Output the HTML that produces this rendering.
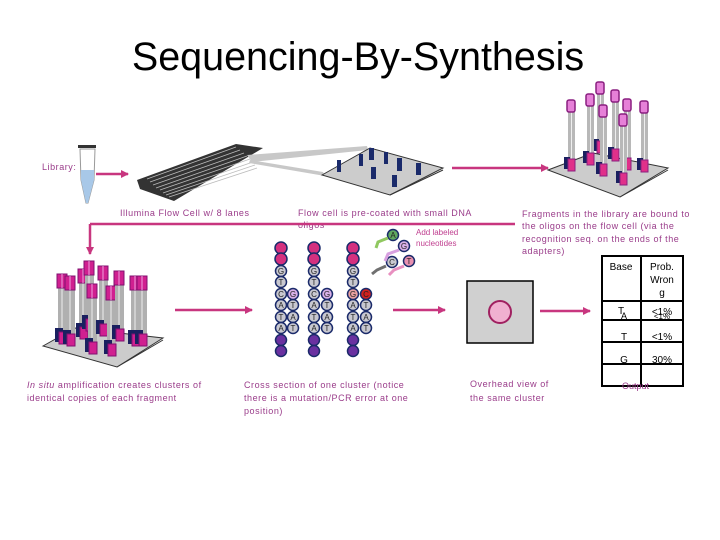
<!DOCTYPE html>
<html><head><meta charset="utf-8"><style>
html,body{margin:0;padding:0;background:#fff;}
svg{display:block;font-family:"Liberation Sans",sans-serif;}
.t{font-size:9px;fill:#9a3c8a;letter-spacing:0.55px;}
.k{font-size:10px;fill:#000;}
</style></head><body>
<svg width="720" height="540" viewBox="0 0 720 540" xmlns="http://www.w3.org/2000/svg">
<defs>
<marker id="ar" markerWidth="8" markerHeight="8" refX="7" refY="4" orient="auto" markerUnits="userSpaceOnUse"><path d="M0,0 L8,4 L0,8 z" fill="#c8367f"/></marker>
<g id="post"><rect x="-3" y="0" width="7" height="66" fill="#b8b8b8"/><line x1="0.5" y1="0" x2="0.5" y2="66" stroke="#eee" stroke-width="1"/><rect x="-4" y="-3" width="8" height="12" rx="2" fill="#e680d8" stroke="#8a1f80" stroke-width="1.5"/><rect x="-7" y="54" width="6" height="12" fill="#1a2060"/><rect x="-3" y="56" width="7" height="12" fill="#e0308a" stroke="#8a1f80"/></g>
<g id="post2"><rect x="-4" y="0" width="9" height="66" fill="#b0b0b0"/><line x1="0" y1="0" x2="0" y2="66" stroke="#eee"/><rect x="-5" y="-2" width="10" height="14" fill="#d02090" stroke="#801070"/><line x1="0" y1="-2" x2="0" y2="12" stroke="#f0a0e0"/><rect x="-7" y="52" width="8" height="14" fill="#1a2060"/><rect x="-3" y="56" width="8" height="12" fill="#d02090" stroke="#801070"/></g>
</defs>

<text x="358" y="70" text-anchor="middle" font-size="39.5" fill="#000">Sequencing-By-Synthesis</text>

<!-- library tube -->
<text x="42" y="170" class="t">Library:</text>
<rect x="78" y="145" width="18" height="3" fill="#333"/>
<path d="M80,149 L95,149 L94,180 L88,203 L86,203 L81,180 z" fill="#fff" stroke="#999"/>
<path d="M81,170 L94,170 L94,180 L88,203 L86,203 L81,180 z" fill="#a8c8e8"/>
<line x1="96" y1="174" x2="128" y2="174" stroke="#c8367f" stroke-width="2.5" marker-end="url(#ar)"/>

<!-- flow cell chip -->
<polygon points="137,180 236,144 263,148 174,201 140,189" fill="#333"/>
<g stroke="#bbb" stroke-width="0.8">
<line x1="150" y1="182" x2="240" y2="150"/><line x1="153" y1="185" x2="244" y2="153"/><line x1="156" y1="188" x2="247" y2="156"/><line x1="160" y1="190" x2="250" y2="159"/><line x1="163" y1="193" x2="253" y2="162"/><line x1="166" y1="195" x2="255" y2="165"/><line x1="169" y1="197" x2="257" y2="168"/><line x1="147" y1="179" x2="236" y2="147"/>
</g>
<polygon points="247,155 367,146 368,150 252,162" fill="#c8c8c8"/>
<polygon points="250,160 323,172 325,176 249,163" fill="#c8c8c8"/>
<polygon points="322,175 370,148 443,168 390,195" fill="#ccc" stroke="#333"/>
<line x1="390" y1="195" x2="443" y2="170" stroke="#333"/>
<g fill="#1a2a6a">
<rect x="337" y="160" width="4" height="12"/><rect x="359" y="154" width="4" height="12"/><rect x="369" y="148" width="5" height="12"/><rect x="384" y="152" width="4" height="12"/><rect x="371" y="167" width="5" height="12"/><rect x="397" y="158" width="5" height="13"/><rect x="416" y="163" width="5" height="12"/><rect x="392" y="175" width="5" height="12"/>
</g>
<line x1="452" y1="168" x2="548" y2="168" stroke="#c8367f" stroke-width="2.5" marker-end="url(#ar)"/>

<!-- right-top plate with posts -->
<polygon points="548,170 593,153 668,168 620,197" fill="#ccc" stroke="#333"/>
<line x1="620" y1="197" x2="668" y2="170" stroke="#333"/>
<use href="#post" x="600" y="85"/><use href="#post" x="590" y="97"/><use href="#post" x="615" y="93"/><use href="#post" x="571" y="103"/><use href="#post" x="627" y="102"/><use href="#post" x="644" y="104"/><use href="#post" x="603" y="108"/><use href="#post" x="623" y="117"/>

<text x="120" y="216" class="t">Illumina Flow Cell w/ 8 lanes</text>
<text x="298" y="216" class="t">Flow cell is pre-coated with small DNA</text>
<text x="298" y="228" class="t">oligos</text>
<text x="522" y="217" class="t">Fragments in the library are bound to</text>
<text x="522" y="229" class="t">the oligos on the flow cell (via the</text>
<text x="522" y="242" class="t">recognition seq. on the ends of the</text>
<text x="522" y="254" class="t">adapters)</text>

<line x1="90" y1="224" x2="515" y2="224" stroke="#c8367f" stroke-width="2.5"/>
<line x1="90" y1="224" x2="90" y2="254" stroke="#c8367f" stroke-width="2.5" marker-end="url(#ar)"/>

<!-- left cluster -->
<polygon points="43,346 75,328 163,338 117,367" fill="#ccc" stroke="#333"/>
<line x1="117" y1="367" x2="163" y2="340" stroke="#333"/>
<use href="#post2" x="62" y="276"/><use href="#post2" x="70" y="278"/><use href="#post2" x="83" y="271"/><use href="#post2" x="89" y="263"/><use href="#post2" x="92" y="286"/><use href="#post2" x="103" y="268"/><use href="#post2" x="111" y="288"/><use href="#post2" x="119" y="273"/><use href="#post2" x="135" y="278"/><use href="#post2" x="142" y="278"/>
<text x="27" y="388" class="t"><tspan font-style="italic">In situ</tspan> amplification creates clusters of</text>
<text x="27" y="401" class="t">identical copies of each fragment</text>
<line x1="175" y1="310" x2="252" y2="310" stroke="#c8367f" stroke-width="2.5" marker-end="url(#ar)"/>

<!-- strands -->
<g font-size="8" text-anchor="middle" stroke="#1a2a6a" stroke-width="1.5">
<g fill="#d4307f"><circle cx="281" cy="248" r="6"/><circle cx="281" cy="259" r="6"/><circle cx="314" cy="248" r="6"/><circle cx="314" cy="259" r="6"/><circle cx="353" cy="248" r="6"/><circle cx="353" cy="259" r="6"/></g>
<g fill="#6a30a0"><circle cx="281" cy="340" r="5.5"/><circle cx="281" cy="351" r="5.5"/><circle cx="314" cy="340" r="5.5"/><circle cx="314" cy="351" r="5.5"/><circle cx="353" cy="340" r="5.5"/><circle cx="353" cy="351" r="5.5"/></g>
<g fill="#c8c8d0">
<circle cx="281" cy="271" r="5.5"/><circle cx="281" cy="282" r="5.5"/><circle cx="281" cy="294" r="5.5"/><circle cx="281" cy="305" r="5.5"/><circle cx="281" cy="317" r="5.5"/><circle cx="281" cy="328" r="5.5"/>
<circle cx="293" cy="305" r="5.5"/><circle cx="293" cy="317" r="5.5"/><circle cx="293" cy="328" r="5.5"/>
<circle cx="314" cy="271" r="5.5"/><circle cx="314" cy="282" r="5.5"/><circle cx="314" cy="294" r="5.5"/><circle cx="314" cy="305" r="5.5"/><circle cx="314" cy="317" r="5.5"/><circle cx="314" cy="328" r="5.5"/>
<circle cx="327" cy="305" r="5.5"/><circle cx="327" cy="317" r="5.5"/><circle cx="327" cy="328" r="5.5"/>
<circle cx="353" cy="271" r="5.5"/><circle cx="353" cy="282" r="5.5"/><circle cx="353" cy="305" r="5.5"/><circle cx="353" cy="317" r="5.5"/><circle cx="353" cy="328" r="5.5"/>
<circle cx="366" cy="305" r="5.5"/><circle cx="366" cy="317" r="5.5"/><circle cx="366" cy="328" r="5.5"/>
</g>
<g fill="#d8b0e8"><circle cx="293" cy="294" r="5.5"/><circle cx="327" cy="294" r="5.5"/></g>
<circle cx="353" cy="294" r="5.5" fill="#e8a0a0"/><circle cx="366" cy="294" r="5.5" fill="#d02020"/>
<circle cx="393" cy="235" r="5.5" fill="#60a860"/><circle cx="404" cy="246" r="5.5" fill="#d8b0e8"/><circle cx="392" cy="262" r="5.5" fill="#c8c8d0"/><circle cx="409" cy="261" r="5.5" fill="#e890b0"/>
</g>
<g font-size="8" text-anchor="middle" fill="#222">
<text x="281" y="274">G</text><text x="281" y="285">T</text><text x="281" y="297">C</text><text x="281" y="308">A</text><text x="281" y="320">T</text><text x="281" y="331">A</text>
<text x="293" y="297">G</text><text x="293" y="308">T</text><text x="293" y="320">A</text><text x="293" y="331">T</text>
<text x="314" y="274">G</text><text x="314" y="285">T</text><text x="314" y="297">C</text><text x="314" y="308">A</text><text x="314" y="320">T</text><text x="314" y="331">A</text>
<text x="327" y="297">G</text><text x="327" y="308">T</text><text x="327" y="320">A</text><text x="327" y="331">T</text>
<text x="353" y="274">G</text><text x="353" y="285">T</text><text x="353" y="297">G</text><text x="353" y="308">A</text><text x="353" y="320">T</text><text x="353" y="331">A</text>
<text x="366" y="297">C</text><text x="366" y="308">T</text><text x="366" y="320">A</text><text x="366" y="331">T</text>
<text x="393" y="238">A</text><text x="404" y="249">G</text><text x="392" y="265">C</text><text x="409" y="264">T</text>
</g>
<g fill="none" stroke-width="3">
<path d="M388,238 L378,242 L376,248" stroke="#90c860"/>
<path d="M399,250 L388,254 L385,261" stroke="#d8a0e0"/>
<path d="M386,266 L377,270 L372,274" stroke="#707070"/>
<path d="M404,266 L394,270 L389,275" stroke="#e890c0"/>
</g>
<text x="416" y="235" font-size="8" fill="#c04090">Add labeled</text>
<text x="416" y="246" font-size="8" fill="#c04090">nucleotides</text>

<text x="244" y="388" class="t">Cross section of one cluster (notice</text>
<text x="244" y="401" class="t">there is a mutation/PCR error at one</text>
<text x="244" y="414" class="t">position)</text>

<line x1="393" y1="310" x2="445" y2="310" stroke="#c8367f" stroke-width="2.5" marker-end="url(#ar)"/>

<!-- overhead -->
<rect x="467" y="281" width="66" height="62" fill="#d0d0d0" stroke="#000" stroke-width="1.5"/>
<circle cx="500" cy="312" r="11" fill="#f0b0d0" stroke="#a02060" stroke-width="2"/>
<text x="470" y="387" class="t">Overhead view of</text>
<text x="470" y="401" class="t">the same cluster</text>
<line x1="540" y1="311" x2="590" y2="311" stroke="#c8367f" stroke-width="2.5" marker-end="url(#ar)"/>

<!-- table -->
<g stroke="#000" stroke-width="2" fill="none">
<rect x="602" y="256" width="81" height="130"/>
<line x1="641" y1="256" x2="641" y2="386"/>
<line x1="602" y1="301" x2="683" y2="301"/><line x1="602" y1="320" x2="683" y2="320"/><line x1="602" y1="342" x2="683" y2="342"/><line x1="602" y1="364" x2="683" y2="364"/>
</g>
<g class="k" font-size="11" text-anchor="middle">
<text x="621" y="270">Base</text>
<text x="662" y="270">Prob.</text><text x="662" y="283">Wron</text><text x="662" y="296">g</text>
<text x="621" y="314">T</text><text x="624" y="319" font-size="9">A</text>
<text x="662" y="315">&lt;1%</text><text x="662" y="319" font-size="8">&lt;1%</text>
<text x="624" y="340">T</text><text x="662" y="340">&lt;1%</text>
<text x="624" y="363">G</text><text x="662" y="363">30%</text>
</g>
<text x="622" y="389" font-size="9" fill="#9a3c8a">Output</text>
</svg>
</body></html>
